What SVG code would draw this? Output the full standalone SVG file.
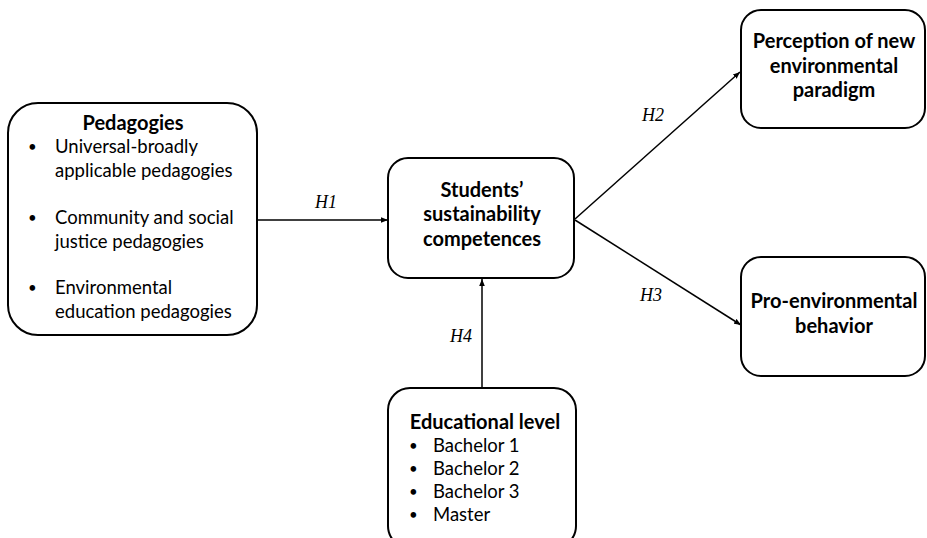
<svg xmlns="http://www.w3.org/2000/svg" width="927" height="538" viewBox="0 0 927 538">
<defs>
<style>
.box{fill:#fff;stroke:#000;stroke-width:2}
.t{font-family:Lato,"Open Sans","Liberation Sans",sans-serif;font-size:18.5px;fill:#000}
.bl{font-size:15px}
.b{font-family:Lato,"Open Sans","Liberation Sans",sans-serif;font-size:20px;font-weight:bold;fill:#000;text-anchor:middle}
.h{font-family:"Liberation Serif","Times New Roman",serif;font-style:italic;font-size:18px;fill:#000}
.c{stroke:#000;stroke-width:1.5;fill:none;marker-end:url(#ah)}
</style>
<marker id="ah" viewBox="0 0 10 10" refX="10" refY="5" markerWidth="7" markerHeight="7" markerUnits="userSpaceOnUse" orient="auto">
<path d="M0,1 L10,5 L0,9 Z" fill="#000"/>
</marker>
</defs>
<rect width="927" height="538" fill="#fff"/>
<g id="connectors">
<line class="c" x1="257" y1="220" x2="388" y2="220"/>
<line class="c" x1="575" y1="219" x2="740" y2="72"/>
<line class="c" x1="575" y1="220" x2="741" y2="325"/>
<line class="c" x1="482" y1="388" x2="482" y2="279"/>
<text class="h" x="315" y="208">H1</text>
<text class="h" x="642" y="121">H2</text>
<text class="h" x="640" y="301">H3</text>
<text class="h" x="450" y="342">H4</text>
</g>
<g id="pedagogies">
<rect class="box" x="8" y="103" width="249" height="232" rx="30"/>
<text class="b" x="133" y="130">Pedagogies</text>
<g class="t">
<text class="bl" x="28" y="152">•</text><text x="55" y="153">Universal-broadly</text>
<text x="55" y="177">applicable pedagogies</text>
<text class="bl" x="28" y="223">•</text><text x="55" y="224">Community and social</text>
<text x="55" y="248">justice pedagogies</text>
<text class="bl" x="28" y="293">•</text><text x="55" y="294">Environmental</text>
<text x="55" y="318">education pedagogies</text>
</g>
</g>
<g id="students">
<rect class="box" x="388" y="158" width="186" height="120" rx="20"/>
<text class="b" x="482" y="197">Students’</text>
<text class="b" x="482" y="221">sustainability</text>
<text class="b" x="482" y="246">competences</text>
</g>
<g id="perception">
<rect class="box" x="741" y="10" width="184" height="118" rx="20"/>
<text class="b" x="834" y="48">Perception of new</text>
<text class="b" x="834" y="73">environmental</text>
<text class="b" x="834" y="97">paradigm</text>
</g>
<g id="proenv">
<rect class="box" x="741" y="257" width="184" height="119" rx="20"/>
<text class="b" x="834" y="308">Pro-environmental</text>
<text class="b" x="834" y="333">behavior</text>
</g>
<g id="edulevel">
<rect class="box" x="388" y="388" width="188" height="160" rx="22"/>
<text class="b" x="485" y="429">Educational level</text>
<g class="t">
<text class="bl" x="409" y="451">•</text><text x="433" y="452">Bachelor 1</text>
<text class="bl" x="409" y="474">•</text><text x="433" y="475">Bachelor 2</text>
<text class="bl" x="409" y="497">•</text><text x="433" y="498">Bachelor 3</text>
<text class="bl" x="409" y="520">•</text><text x="433" y="521">Master</text>
</g>
</g>
</svg>
